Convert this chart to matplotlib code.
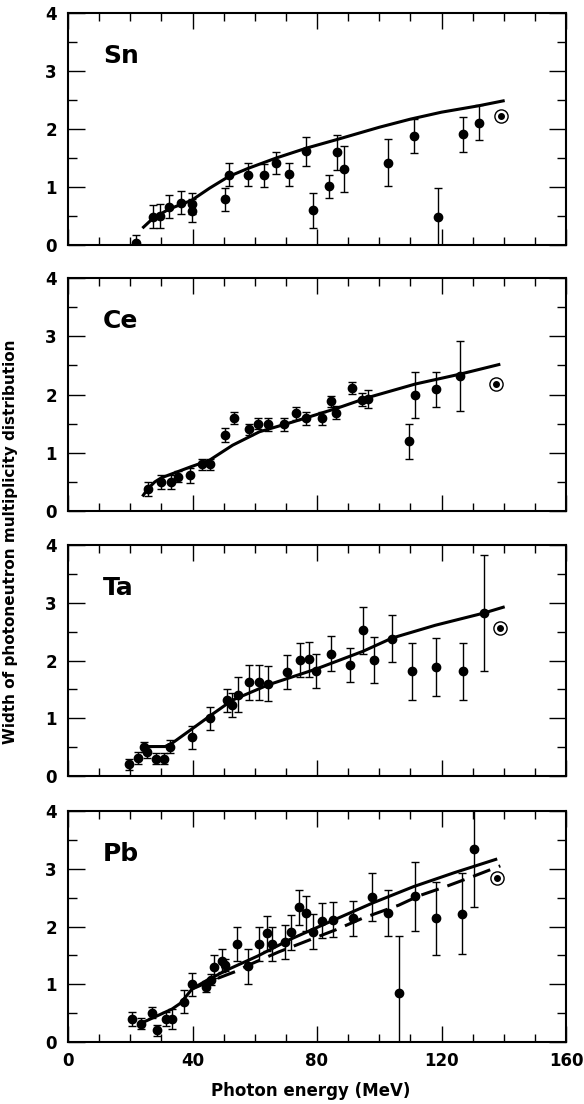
import matplotlib
matplotlib.use("Agg")
import matplotlib.pyplot as plt
from matplotlib.ticker import MultipleLocator

plt.rcParams['font.family'] = ['DejaVu Sans']
plt.rcParams['font.weight'] = 'bold'

# ---------------- data ----------------
sn_E = [22.0, 27.3, 29.5, 32.5, 36.2, 39.7, 39.7, 50.6, 51.6, 57.8, 63.0, 66.9, 70.9,
        76.6, 78.7, 83.9, 86.5, 88.7, 102.9, 111.3, 118.8, 127.0, 131.9]
sn_W = [0.03, 0.49, 0.50, 0.66, 0.73, 0.71, 0.59, 0.79, 1.21, 1.21, 1.20, 1.42, 1.22,
        1.62, 0.60, 1.01, 1.60, 1.31, 1.42, 1.88, 0.49, 1.91, 2.11]
sn_err = [0.15, 0.20, 0.21, 0.20, 0.20, 0.18, 0.20, 0.20, 0.20, 0.20, 0.20, 0.19, 0.20,
          0.25, 0.30, 0.20, 0.30, 0.40, 0.41, 0.29, 0.50, 0.30, 0.30]
sn_curve_E = [23.9, 27.3, 32.5, 39.7, 45.5, 51.6, 57.8, 66.9, 76.6, 86.5, 100.0, 110.0, 120.0, 131.9, 140.3]
sn_curve_W = [0.29, 0.46, 0.62, 0.77, 0.98, 1.18, 1.32, 1.50, 1.67, 1.82, 2.03, 2.17, 2.29, 2.40, 2.49]
sn_circle = (139.1, 2.22)

ce_E = [25.8, 29.8, 33.2, 35.4, 39.2, 43.2, 45.6, 50.4, 53.4, 58.3, 61.1, 64.2, 69.4,
        73.1, 76.6, 81.6, 84.4, 86.2, 91.4, 94.6, 96.5, 109.4, 111.6, 118.3, 126.0]
ce_W = [0.38, 0.50, 0.50, 0.59, 0.61, 0.80, 0.80, 1.30, 1.60, 1.40, 1.50, 1.49, 1.49,
        1.68, 1.59, 1.59, 1.88, 1.69, 2.11, 1.91, 1.92, 1.20, 1.99, 2.09, 2.31]
ce_err = [0.12, 0.12, 0.12, 0.10, 0.13, 0.10, 0.10, 0.12, 0.10, 0.10, 0.10, 0.11, 0.11,
          0.11, 0.11, 0.11, 0.10, 0.11, 0.10, 0.11, 0.16, 0.30, 0.40, 0.30, 0.60]
ce_curve_E = [23.9, 25.8, 27.9, 30.0, 33.5, 39.5, 45.4, 52.9, 61.5, 72.3, 86.2, 96.5, 111.6, 126.0, 138.9]
ce_curve_W = [0.25, 0.39, 0.50, 0.57, 0.64, 0.76, 0.87, 1.13, 1.36, 1.53, 1.76, 1.95, 2.18, 2.35, 2.52]
ce_circle = (137.5, 2.18)

ta_E = [19.6, 22.5, 24.4, 25.5, 28.4, 30.9, 32.8, 39.7, 45.6, 51.1, 52.7, 54.7, 58.1, 61.5,
        64.4, 70.3, 74.4, 77.4, 79.6, 84.6, 90.5, 94.8, 98.4, 104.2, 110.5, 118.3, 126.8, 133.5]
ta_W = [0.20, 0.31, 0.50, 0.41, 0.30, 0.30, 0.51, 0.67, 1.00, 1.31, 1.23, 1.41, 1.62, 1.62,
        1.60, 1.80, 2.01, 2.02, 1.82, 2.12, 1.92, 2.52, 2.01, 2.38, 1.81, 1.89, 1.81, 2.82]
ta_err = [0.10, 0.10, 0.09, 0.10, 0.10, 0.10, 0.12, 0.20, 0.20, 0.20, 0.20, 0.30, 0.30, 0.30,
          0.30, 0.30, 0.30, 0.30, 0.30, 0.30, 0.30, 0.40, 0.40, 0.40, 0.50, 0.50, 0.50, 1.00]
ta_curve_E = [24.4, 31.2, 33.5, 39.7, 45.6, 52.7, 64.4, 79.6, 94.8, 104.2, 118.0, 133.5, 140.3]
ta_curve_W = [0.51, 0.51, 0.57, 0.81, 1.04, 1.31, 1.58, 1.85, 2.16, 2.39, 2.61, 2.82, 2.93]
ta_circle = (138.7, 2.57)

pb_E = [20.7, 23.4, 26.9, 28.7, 31.5, 33.4, 37.3, 39.7, 44.2, 45.8, 46.9, 49.6, 50.6, 54.4,
        57.9, 61.4, 63.8, 65.7, 69.6, 71.7, 74.1, 76.5, 78.7, 81.6, 85.3, 91.6, 97.7, 102.9,
        106.3, 111.5, 118.3, 126.7, 130.5]
pb_W = [0.40, 0.32, 0.51, 0.20, 0.40, 0.40, 0.70, 1.00, 0.96, 1.08, 1.30, 1.41, 1.33, 1.70,
        1.31, 1.70, 1.88, 1.70, 1.73, 1.90, 2.33, 2.23, 1.91, 2.10, 2.12, 2.14, 2.51, 2.23,
        0.84, 2.52, 2.14, 2.22, 3.34]
pb_err = [0.12, 0.10, 0.10, 0.10, 0.12, 0.17, 0.20, 0.20, 0.10, 0.10, 0.20, 0.20, 0.10, 0.30,
          0.30, 0.30, 0.30, 0.30, 0.30, 0.30, 0.30, 0.30, 0.30, 0.30, 0.30, 0.30, 0.41, 0.40,
          1.00, 0.60, 0.63, 0.70, 1.00]
pb_curve_E = [23.7, 33.4, 36.1, 39.9, 45.0, 52.0, 61.0, 71.5, 87.0, 98.0, 111.0, 124.0, 137.9]
pb_curve_W = [0.33, 0.57, 0.67, 0.92, 1.08, 1.27, 1.49, 1.78, 2.15, 2.41, 2.69, 2.93, 3.17]
pb_dash_E = [40.0, 46.0, 53.8, 59.2, 67.7, 76.3, 85.9, 94.5, 106.3, 112.7, 121.3, 129.3, 138.9]
pb_dash_W = [0.92, 1.06, 1.22, 1.36, 1.56, 1.74, 1.94, 2.14, 2.37, 2.53, 2.69, 2.85, 3.05]
pb_circle = (137.7, 2.84)

labels = ['Sn', 'Ce', 'Ta', 'Pb']
x_ticks = [0, 40, 80, 120, 160]
y_ticks = [0, 1, 2, 3, 4]

panels = [
    (sn_E, sn_W, sn_err, sn_curve_E, sn_curve_W, None, None, sn_circle),
    (ce_E, ce_W, ce_err, ce_curve_E, ce_curve_W, None, None, ce_circle),
    (ta_E, ta_W, ta_err, ta_curve_E, ta_curve_W, None, None, ta_circle),
    (pb_E, pb_W, pb_err, pb_curve_E, pb_curve_W, pb_dash_E, pb_dash_W, pb_circle),
]

# ---------------- layout ----------------
W_PX, H_PX = 584, 1104
fig = plt.figure(figsize=(W_PX / 100, H_PX / 100), dpi=100)
left_px, right_px = 68, 566
panel_px = [(13, 245), (278, 511), (545, 776), (811, 1042)]

for i, (lab, pdata) in enumerate(zip(labels, panels)):
    top, bot = panel_px[i]
    ax = fig.add_axes([left_px / W_PX, 1 - bot / H_PX,
                       (right_px - left_px) / W_PX, (bot - top) / H_PX])
    E, Wv, err, cE, cW, dE, dW, circ = pdata
    ax.plot(cE, cW, '-', color='black', lw=2.2, solid_capstyle='butt', zorder=2)
    if dE is not None:
        ax.plot(dE, dW, '-', color='black', lw=2.2, dashes=(6, 3),
                dash_capstyle='butt', zorder=2)
    ax.errorbar(E, Wv, yerr=err, fmt='o', color='black', ms=6, elinewidth=1.0,
                capsize=3, capthick=1.0, zorder=3)
    ax.plot([circ[0]], [circ[1]], 'o', mfc='white', mec='black', ms=9.5, mew=1.0, zorder=3)
    ax.plot([circ[0]], [circ[1]], 'o', color='black', ms=4, zorder=4)

    ax.text(0.07, 0.785, lab, transform=ax.transAxes, fontsize=18,
            fontweight='bold', ha='left', va='baseline')

    ax.set_xlim(0, 160)
    ax.set_ylim(0, 4)
    ax.set_xticks(x_ticks)
    ax.xaxis.set_minor_locator(MultipleLocator(10))
    ax.set_yticks(y_ticks)
    ax.yaxis.set_minor_locator(MultipleLocator(0.5))
    ax.tick_params(axis='x', which='major', direction='in', top=True, bottom=True,
                   length=11.5, width=1.0, pad=7, labelsize=12)
    ax.tick_params(axis='x', which='minor', direction='in', top=True, bottom=True,
                   length=5.8, width=1.0)
    ax.tick_params(axis='y', which='major', direction='in', left=True, right=True,
                   length=12, width=1.0, pad=8, labelsize=12)
    ax.tick_params(axis='y', which='minor', direction='in', left=True, right=True,
                   length=6.5, width=1.0)
    for s in ax.spines.values():
        s.set_linewidth(1.5)
    for t in ax.get_yticklabels() + ax.get_xticklabels():
        t.set_fontweight('bold')
    if i < 3:
        ax.set_xticklabels([])

fig.text(11 / W_PX, 1 - 542 / H_PX, 'Width of photoneutron multiplicity distribution',
         rotation=90, ha='center', va='center', fontsize=11, fontweight='bold')
fig.text(311 / W_PX, 1 - 1091 / H_PX, 'Photon energy (MeV)',
         ha='center', va='center', fontsize=12, fontweight='bold')

fig.savefig('out.png', dpi=100, facecolor='white')
